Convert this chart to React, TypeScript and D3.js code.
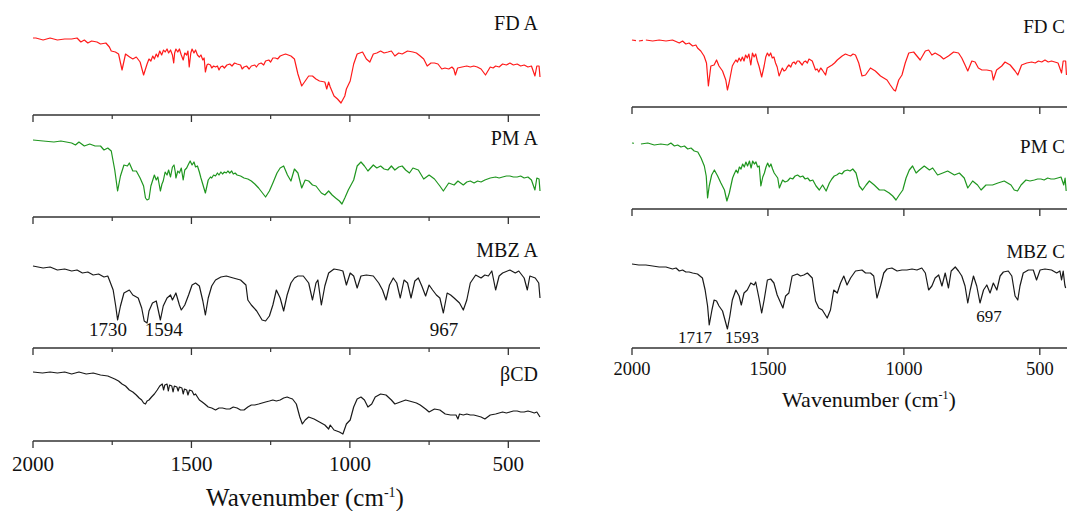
import React from 'react';
import * as d3 from 'd3';

type Pt = [number, number];

// Wavenumber (cm-1), relative transmittance (a.u.)
const fdA: Pt[] = [[2000,77],[1991,77],[1968,75],[1946,77],[1923,75],[1900,76],[1878,76],[1861,77],[1849,73],[1838,75],[1827,72],[1815,74],[1798,73],[1787,71],[1770,72],[1759,68],[1753,64],[1740,63],[1730,61],[1719,45],[1708,61],[1695,58],[1685,56],[1674,58],[1662,53],[1651,40],[1640,51],[1634,56],[1628,54],[1622,59],[1617,56],[1611,61],[1606,58],[1600,64],[1594,60],[1588,65],[1583,63],[1577,66],[1572,62],[1566,65],[1560,60],[1556,52],[1553,62],[1549,66],[1543,63],[1538,66],[1532,60],[1526,55],[1521,62],[1515,60],[1511,64],[1507,48],[1502,62],[1498,66],[1492,62],[1487,65],[1481,60],[1475,58],[1470,60],[1464,55],[1460,57],[1456,43],[1451,50],[1447,51],[1440,50],[1436,47],[1430,49],[1424,48],[1418,49],[1413,45],[1408,48],[1402,49],[1396,47],[1388,50],[1379,51],[1372,49],[1364,52],[1356,51],[1345,50],[1340,46],[1334,48],[1326,49],[1318,46],[1311,49],[1300,50],[1295,48],[1288,51],[1280,52],[1272,50],[1266,54],[1256,55],[1250,53],[1243,57],[1235,57],[1228,56],[1220,59],[1212,60],[1203,61],[1186,59],[1175,56],[1164,41],[1152,29],[1141,34],[1130,39],[1118,39],[1107,36],[1096,34],[1079,33],[1073,26],[1067,33],[1062,28],[1050,19],[1039,16],[1028,12],[1016,19],[1011,26],[999,34],[988,51],[977,61],[960,63],[948,56],[937,53],[926,61],[915,62],[903,64],[892,62],[880,63],[869,64],[858,59],[846,62],[835,61],[818,64],[801,63],[790,62],[778,59],[767,56],[756,49],[744,52],[733,52],[722,51],[710,46],[700,47],[688,46],[678,48],[672,46],[667,40],[660,47],[646,48],[631,49],[620,48],[609,49],[598,48],[586,46],[572,40],[557,48],[548,47],[540,49],[529,48],[518,51],[506,50],[495,52],[484,50],[472,51],[461,49],[450,50],[438,48],[427,49],[416,39],[410,49],[403,49],[400,38]];

const pmA: Pt[] = [[2000,77],[1968,76],[1934,75],[1912,76],[1878,74],[1866,72],[1855,75],[1838,71],[1821,73],[1804,71],[1787,71],[1776,67],[1764,69],[1753,66],[1742,47],[1733,26],[1724,41],[1713,52],[1702,51],[1696,54],[1685,46],[1674,46],[1662,39],[1651,31],[1645,19],[1640,17],[1634,18],[1628,31],[1617,42],[1611,37],[1606,40],[1598,26],[1593,33],[1589,36],[1583,45],[1577,42],[1572,47],[1566,40],[1560,50],[1555,52],[1551,45],[1549,39],[1543,46],[1538,44],[1532,49],[1526,37],[1521,47],[1515,49],[1509,53],[1504,56],[1498,52],[1492,55],[1487,50],[1481,51],[1475,45],[1470,39],[1456,24],[1447,37],[1440,40],[1436,39],[1430,42],[1424,41],[1418,44],[1413,42],[1407,45],[1402,43],[1396,45],[1390,44],[1385,46],[1379,44],[1373,46],[1368,43],[1362,44],[1356,42],[1345,41],[1334,39],[1322,38],[1311,36],[1300,33],[1288,29],[1266,20],[1254,26],[1243,34],[1230,44],[1220,49],[1209,51],[1197,42],[1186,36],[1175,48],[1164,44],[1152,29],[1141,37],[1130,36],[1118,32],[1107,31],[1090,24],[1079,22],[1067,26],[1056,22],[1045,19],[1033,16],[1025,13],[1016,19],[1005,27],[988,37],[977,51],[965,55],[954,51],[943,46],[926,52],[915,49],[903,51],[892,48],[880,47],[869,51],[858,47],[846,50],[835,51],[824,47],[812,44],[801,49],[784,47],[767,38],[750,42],[733,38],[716,31],[705,26],[688,34],[671,32],[659,36],[642,32],[631,35],[620,36],[608,34],[597,36],[586,35],[574,37],[557,39],[540,40],[529,39],[518,40],[506,41],[495,41],[484,40],[472,40],[461,41],[450,39],[438,40],[427,37],[416,27],[410,39],[403,38],[400,26]];

const mbzA: Pt[] = [[2000,82],[1968,80],[1946,81],[1923,78],[1900,79],[1878,77],[1861,78],[1844,75],[1827,76],[1810,73],[1793,74],[1776,71],[1764,72],[1759,68],[1747,58],[1739,42],[1733,28],[1724,42],[1713,55],[1696,58],[1685,53],[1668,50],[1657,40],[1649,27],[1640,25],[1634,37],[1623,45],[1611,47],[1598,28],[1589,42],[1577,50],[1566,53],[1560,48],[1549,55],[1538,43],[1532,38],[1521,43],[1509,53],[1498,63],[1487,65],[1475,62],[1464,47],[1456,33],[1447,50],[1436,62],[1424,68],[1407,71],[1390,72],[1368,70],[1345,68],[1328,63],[1322,48],[1311,43],[1294,37],[1277,28],[1266,27],[1254,32],[1243,43],[1232,58],[1220,50],[1209,37],[1198,53],[1186,65],[1175,70],[1164,72],[1147,72],[1130,65],[1118,48],[1107,65],[1101,68],[1090,43],[1079,62],[1067,75],[1050,79],[1033,78],[1022,77],[1011,63],[999,75],[988,72],[977,60],[965,72],[948,73],[926,72],[909,65],[897,58],[886,48],[875,63],[863,70],[852,65],[841,50],[829,68],[818,65],[807,50],[795,67],[784,70],[773,62],[761,52],[750,63],[739,58],[727,53],[716,50],[705,35],[693,55],[682,53],[671,50],[654,45],[642,38],[631,48],[620,65],[603,73],[586,70],[574,73],[563,72],[552,77],[540,58],[529,72],[518,75],[495,78],[478,75],[467,77],[450,70],[440,58],[432,72],[415,70],[404,65],[400,50]];

const bCD: Pt[] = [[2000,69],[1970,68],[1946,69],[1923,68],[1900,69],[1878,67],[1855,69],[1832,67],[1810,68],[1787,66],[1764,65],[1742,62],[1730,60],[1719,57],[1708,55],[1696,51],[1685,49],[1674,46],[1665,43],[1657,41],[1651,38],[1645,37],[1640,40],[1634,41],[1626,44],[1617,47],[1608,51],[1600,55],[1592,57],[1588,51],[1584,56],[1577,57],[1573,50],[1569,56],[1562,55],[1558,49],[1554,55],[1546,54],[1542,50],[1538,54],[1530,53],[1526,47],[1522,52],[1515,51],[1511,46],[1506,51],[1498,50],[1492,46],[1487,47],[1475,41],[1466,39],[1458,37],[1447,34],[1436,33],[1424,31],[1413,33],[1402,33],[1390,32],[1379,32],[1368,34],[1356,33],[1345,31],[1334,31],[1322,34],[1311,36],[1300,36],[1288,37],[1277,38],[1266,39],[1254,40],[1243,41],[1232,40],[1220,41],[1209,43],[1198,44],[1190,43],[1181,42],[1169,37],[1158,24],[1150,17],[1141,21],[1130,24],[1113,22],[1096,19],[1079,16],[1067,12],[1062,16],[1050,11],[1033,9],[1022,7],[1011,17],[999,21],[988,34],[977,42],[965,44],[954,41],[943,34],[931,37],[920,44],[903,47],[886,46],[869,41],[858,37],[841,39],[824,41],[801,39],[790,38],[778,36],[761,32],[750,29],[733,32],[716,31],[699,27],[682,26],[665,26],[659,22],[654,27],[642,26],[631,27],[620,26],[609,26],[597,25],[586,24],[574,22],[557,26],[540,27],[529,28],[518,29],[506,28],[495,29],[484,30],[472,30],[461,29],[450,29],[438,30],[427,29],[418,28],[410,29],[404,26],[400,24]];

const fdC: Pt[] = [[2000,67],[1975,66],[1949,67],[1924,66],[1900,67],[1875,66],[1851,67],[1826,64],[1814,66],[1802,63],[1790,64],[1777,61],[1765,62],[1759,59],[1747,56],[1735,51],[1726,44],[1719,21],[1710,41],[1698,42],[1689,47],[1680,41],[1667,36],[1655,27],[1649,17],[1643,24],[1631,41],[1625,44],[1618,47],[1612,45],[1606,49],[1600,46],[1594,50],[1588,46],[1582,52],[1576,49],[1570,53],[1563,42],[1557,54],[1551,50],[1545,53],[1539,46],[1533,41],[1523,30],[1514,41],[1508,50],[1502,54],[1496,51],[1490,54],[1484,49],[1478,50],[1472,44],[1466,40],[1459,31],[1447,39],[1441,36],[1435,37],[1429,40],[1423,42],[1416,40],[1410,44],[1404,45],[1398,43],[1392,46],[1386,46],[1380,44],[1374,42],[1368,45],[1362,46],[1355,44],[1349,48],[1343,47],[1337,46],[1325,37],[1319,38],[1313,35],[1306,39],[1300,37],[1288,32],[1282,39],[1270,41],[1264,42],[1255,44],[1245,47],[1236,49],[1227,51],[1215,53],[1206,52],[1196,51],[1187,53],[1178,52],[1166,44],[1154,31],[1141,32],[1123,39],[1105,36],[1086,31],[1074,29],[1062,27],[1050,22],[1037,17],[1031,16],[1019,27],[1007,32],[995,44],[982,54],[964,55],[952,51],[940,47],[921,56],[909,57],[897,52],[885,54],[866,51],[854,48],[836,51],[817,55],[799,54],[787,49],[775,42],[765,36],[750,46],[738,45],[726,39],[713,37],[695,37],[677,36],[671,27],[659,37],[640,41],[628,45],[609,42],[591,36],[581,32],[567,42],[548,44],[530,45],[517,44],[505,46],[493,45],[481,47],[469,45],[457,46],[445,45],[433,44],[420,34],[414,46],[405,46],[402,32]];

const pmC: Pt[] = [[2000,66],[1967,65],[1942,66],[1918,64],[1894,65],[1869,64],[1857,66],[1844,63],[1832,64],[1820,62],[1807,63],[1795,60],[1783,61],[1771,58],[1758,57],[1746,51],[1734,43],[1727,33],[1722,11],[1716,23],[1707,34],[1697,39],[1685,33],[1673,26],[1660,19],[1651,8],[1642,16],[1630,31],[1624,35],[1617,39],[1611,36],[1605,42],[1599,40],[1593,45],[1587,42],[1581,47],[1575,43],[1568,48],[1562,41],[1556,48],[1550,45],[1544,47],[1538,42],[1532,43],[1526,23],[1519,32],[1513,36],[1507,42],[1501,46],[1495,42],[1489,45],[1483,40],[1477,36],[1464,31],[1458,21],[1446,29],[1437,27],[1428,28],[1418,31],[1409,30],[1400,33],[1391,34],[1381,32],[1372,33],[1363,30],[1354,31],[1345,28],[1335,29],[1323,23],[1311,19],[1299,24],[1286,18],[1274,26],[1265,30],[1256,33],[1247,34],[1237,36],[1228,35],[1219,38],[1207,39],[1198,38],[1188,40],[1176,36],[1164,23],[1152,19],[1139,24],[1127,28],[1109,24],[1090,19],[1072,19],[1054,16],[1041,13],[1029,9],[1017,14],[1004,19],[992,31],[980,39],[968,43],[955,36],[943,39],[925,43],[906,39],[894,41],[876,34],[857,36],[839,38],[814,34],[796,36],[778,31],[765,21],[747,28],[729,24],[716,19],[698,24],[674,24],[654,26],[631,28],[606,24],[594,19],[582,18],[569,24],[551,29],[536,28],[520,29],[508,30],[496,30],[484,29],[471,31],[459,30],[447,30],[434,31],[422,32],[412,24],[407,31],[403,18]];

const mbzC: Pt[] = [[2000,84],[1975,83],[1949,83],[1924,82],[1900,81],[1875,81],[1851,79],[1838,80],[1826,77],[1814,78],[1802,76],[1790,76],[1777,75],[1759,74],[1741,70],[1731,58],[1722,42],[1716,23],[1706,38],[1698,48],[1689,47],[1680,42],[1667,37],[1658,28],[1649,19],[1640,32],[1631,48],[1618,58],[1606,52],[1598,43],[1588,55],[1576,58],[1563,65],[1551,63],[1545,66],[1533,50],[1523,35],[1514,48],[1502,68],[1490,69],[1478,65],[1466,53],[1453,45],[1445,40],[1435,52],[1423,55],[1411,72],[1392,74],[1380,72],[1368,73],[1355,75],[1337,70],[1325,47],[1313,40],[1300,38],[1282,30],[1270,38],[1258,58],[1245,55],[1233,65],[1221,72],[1209,63],[1196,70],[1178,77],[1154,78],[1141,75],[1123,75],[1111,72],[1099,50],[1086,62],[1074,75],[1062,79],[1044,80],[1025,77],[1007,78],[989,78],[970,79],[952,78],[934,80],[921,75],[909,58],[897,62],[885,70],[872,73],[860,62],[848,75],[836,60],[826,77],[811,81],[799,77],[787,72],[775,62],[765,45],[756,58],[744,72],[732,62],[720,45],[707,58],[695,63],[683,55],[671,65],[658,58],[646,72],[634,76],[616,77],[603,72],[591,52],[581,48],[573,62],[561,75],[542,78],[524,78],[512,68],[499,78],[481,79],[457,78],[438,75],[426,77],[420,68],[414,77],[408,63],[405,60]];

const majorTicks = [2000, 1500, 1000, 500];
const minorTicks = [1750, 1250, 750];
const mbzAPeaks = [{ text: '1730', wn: 1763 }, { text: '1594', wn: 1587 }, { text: '967', wn: 703 }];
const mbzCPeaks = [{ text: '1717', wn: 1768 }, { text: '1593', wn: 1595 }, { text: '697', wn: 687 }];

const RED = '#ff1a1a';
const GREEN = '#1f961f';
const BLACK = '#1a1a1a';
const AXIS = '#333333';
const FONT = "'Liberation Serif', 'Times New Roman', Times, serif";

const leftX = d3.scaleLinear().domain([2000, 400]).range([33, 540]);
const rightX = d3.scaleLinear().domain([2000, 400]).range([632, 1067]);

interface Panel { label: string; data: Pt[]; color: string; axisY: number; labelY: number; dashUntil?: number; dash?: string }

const leftPanels: Panel[] = [
  { label: 'FD A', data: fdA, color: RED, axisY: 115, labelY: 30 },
  { label: 'PM A', data: pmA, color: GREEN, axisY: 217, labelY: 145 },
  { label: 'MBZ A', data: mbzA, color: BLACK, axisY: 348, labelY: 257 },
  { label: 'βCD', data: bCD, color: BLACK, axisY: 441, labelY: 381 },
];
const rightPanels: Panel[] = [
  { label: 'FD C', data: fdC, color: RED, axisY: 107, labelY: 33 },
  { label: 'PM C', data: pmC, color: GREEN, axisY: 209, labelY: 153, dashUntil: 1967, dash: '2,7' },
  { label: 'MBZ C', data: mbzC, color: BLACK, axisY: 348, labelY: 258 },
];
rightPanels[0].dashUntil = 1949;
rightPanels[0].dash = '4,3';

function PanelView({ p, x, minor, fs }: { p: Panel; x: d3.ScaleLinear<number, number>; minor: boolean; fs: number }) {
  const y = d3.scaleLinear().domain([0, 100]).range([p.axisY, p.axisY - 100]);
  const line = d3.line<Pt>().x(d => x(d[0])).y(d => y(d[1]));
  const solid = p.dashUntil ? p.data.filter(d => d[0] <= p.dashUntil!) : p.data;
  const dashed = p.dashUntil ? p.data.filter(d => d[0] >= p.dashUntil!) : [];
  const [x0, x1] = x.range();
  return (
    <g>
      {dashed.length > 1 && <path d={line(dashed) || ''} fill="none" stroke={p.color} strokeWidth={1.2} strokeDasharray={p.dash} />}
      <path d={line(solid) || ''} fill="none" stroke={p.color} strokeWidth={1.2} strokeLinejoin="round" />
      <line x1={x0} x2={x1} y1={p.axisY} y2={p.axisY} stroke={AXIS} strokeWidth={1.3} />
      {majorTicks.map(t => <line key={t} x1={x(t)} x2={x(t)} y1={p.axisY} y2={p.axisY + 7} stroke={AXIS} strokeWidth={1.3} />)}
      {minor && minorTicks.map(t => <line key={t} x1={x(t)} x2={x(t)} y1={p.axisY} y2={p.axisY + 4} stroke={AXIS} strokeWidth={1.2} />)}
      <text x={x1 - 2} y={p.labelY} textAnchor="end" fontFamily={FONT} fontSize={fs} fill="#111">{p.label}</text>
    </g>
  );
}

export default function App() {
  const lb = leftPanels[leftPanels.length - 1];
  const rb = rightPanels[rightPanels.length - 1];
  const mA = leftPanels[2];
  const mC = rightPanels[2];
  return (
    <svg width={1070} height={511} style={{ position: 'absolute', left: 0, top: 0, background: '#fff' }}>
      <rect width={1070} height={511} fill="#fff" />
      {leftPanels.map(p => <PanelView key={p.label} p={p} x={leftX} minor={true} fs={20} />)}
      {rightPanels.map(p => <PanelView key={p.label} p={p} x={rightX} minor={false} fs={19} />)}
      {majorTicks.map(t => (
        <text key={'lt' + t} x={leftX(t)} y={lb.axisY + 30} textAnchor="middle" fontFamily={FONT} fontSize={21} fill="#111">{t}</text>
      ))}
      {majorTicks.map(t => (
        <text key={'rt' + t} x={rightX(t)} y={rb.axisY + 27} textAnchor="middle" fontFamily={FONT} fontSize={18.5} fill="#111">{t}</text>
      ))}
      <text x={305} y={506} textAnchor="middle" fontFamily={FONT} fontSize={25} fill="#111">
        Wavenumber (cm<tspan dy={-9} fontSize={14}>-1</tspan><tspan dy={9}>)</tspan>
      </text>
      <text x={869} y={407} textAnchor="middle" fontFamily={FONT} fontSize={22} fill="#111">
        Wavenumber (cm<tspan dy={-8} fontSize={12}>-1</tspan><tspan dy={8}>)</tspan>
      </text>
      {mbzAPeaks.map(pk => (
        <text key={pk.text} x={leftX(pk.wn)} y={mA.axisY - 12} textAnchor="middle" fontFamily={FONT} fontSize={19} fill="#111">{pk.text}</text>
      ))}
      {mbzCPeaks.map(pk => (
        <text key={pk.text} x={rightX(pk.wn)} y={mC.axisY - (pk.text === '697' ? 26 : 5)} textAnchor="middle" fontFamily={FONT} fontSize={17} fill="#111">{pk.text}</text>
      ))}
    </svg>
  );
}
